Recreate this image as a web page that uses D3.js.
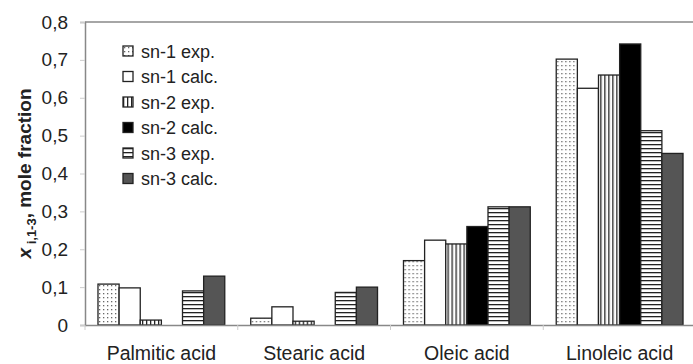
<!DOCTYPE html>
<html>
<head>
<meta charset="utf-8">
<script src="https://cdn.jsdelivr.net/npm/d3@7"></script>
<style>
  body { margin: 0; background: #fff; }
  text { font-family: "Liberation Sans", Arial, sans-serif; fill: #222; }
</style>
</head>
<body>
<script>
// categories and series
var acids = ["Palmitic acid", "Stearic acid", "Oleic acid", "Linoleic acid"];
var seriesNames = ["sn-1 exp.", "sn-1 calc.", "sn-2 exp.", "sn-2 calc.", "sn-3 exp.", "sn-3 calc."];
var sn1Exp  = [0.108, 0.018, 0.170, 0.702];
var sn1Calc = [0.098, 0.048, 0.224, 0.625];
var sn2Exp  = [0.013, 0.010, 0.214, 0.660];
var sn2Calc = [0.000, 0.000, 0.260, 0.742];
var sn3Exp  = [0.090, 0.086, 0.312, 0.513];
var sn3Calc = [0.129, 0.100, 0.312, 0.453];
var yTicks = [0, 0.1, 0.2, 0.3, 0.4, 0.5, 0.6, 0.7, 0.8];

var allSeries = [sn1Exp, sn1Calc, sn2Exp, sn2Calc, sn3Exp, sn3Calc];

var width = 693, height = 364;
var margin = {top: 22, right: -3, bottom: 39, left: 85};

var svg = d3.select("body").append("svg")
    .attr("width", width)
    .attr("height", height);

// patterns for fills
var defs = svg.append("defs");

var dots = defs.append("pattern").attr("id", "dots")
    .attr("patternUnits", "userSpaceOnUse").attr("width", 4).attr("height", 4);
dots.append("rect").attr("width", 4).attr("height", 4).attr("fill", "#fff");
dots.append("rect").attr("x", 1).attr("y", 1).attr("width", 1.3).attr("height", 1.3).attr("fill", "#666");

var vlines = defs.append("pattern").attr("id", "vlines")
    .attr("patternUnits", "userSpaceOnUse").attr("width", 4).attr("height", 4);
vlines.append("rect").attr("width", 4).attr("height", 4).attr("fill", "#fff");
vlines.append("rect").attr("x", 0).attr("width", 1.3).attr("height", 4).attr("fill", "#222");

var hlines = defs.append("pattern").attr("id", "hlines")
    .attr("patternUnits", "userSpaceOnUse").attr("width", 4).attr("height", 4);
hlines.append("rect").attr("width", 4).attr("height", 4).attr("fill", "#fff");
hlines.append("rect").attr("y", 0).attr("width", 4).attr("height", 1.3).attr("fill", "#222");

var fills = ["url(#dots)", "#fff", "url(#vlines)", "#000", "url(#hlines)", "#555"];

var plotW = width - margin.left - margin.right,
    plotH = height - margin.top - margin.bottom;

var x0 = d3.scaleBand().domain(acids).range([margin.left, margin.left + plotW]).paddingInner(0.17).paddingOuter(0.085);
var x1 = d3.scaleBand().domain(d3.range(seriesNames.length)).range([0, x0.bandwidth()]);
var y = d3.scaleLinear().domain([0, 0.8]).range([margin.top + plotH, margin.top]);

// frame: top gray line
svg.append("line")
    .attr("x1", margin.left).attr("x2", width)
    .attr("y1", y(0.8)).attr("y2", y(0.8))
    .attr("stroke", "#888").attr("stroke-width", 1.5);

// y axis
var yAxis = svg.append("g")
    .attr("transform", "translate(" + margin.left + ",0)")
    .call(d3.axisLeft(y).tickValues(yTicks).tickSize(5).tickPadding(12)
        .tickFormat(function(d){ return d === 0 ? "0" : d3.format(".1f")(d).replace(".", ","); }));
yAxis.select(".domain").attr("stroke", "#888").attr("stroke-width", 1.5);
yAxis.selectAll(".tick line").attr("stroke", "#ccc");
yAxis.selectAll("text").style("font-size", "19px").attr("fill", "#222");

// bars
var groups = svg.selectAll(".acid")
    .data(acids)
    .enter().append("g")
    .attr("class", "acid")
    .attr("transform", function(d){ return "translate(" + x0(d) + ",0)"; });

groups.selectAll("rect")
    .data(function(d, i){ return allSeries.map(function(s, k){ return {k: k, v: s[i]}; }); })
    .enter().append("rect")
    .filter(function(d){ return d.v > 0; })
    .attr("x", function(d){ return x1(d.k); })
    .attr("width", x1.bandwidth())
    .attr("y", function(d){ return y(d.v); })
    .attr("height", function(d){ return y(0) - y(d.v); })
    .attr("fill", function(d){ return fills[d.k]; })
    .attr("stroke", "#222")
    .attr("stroke-width", 1.3);

// x axis
var xAxis = svg.append("g")
    .attr("transform", "translate(0," + y(0) + ")")
    .call(d3.axisBottom(x0).tickSize(0).tickPadding(21));
xAxis.select(".domain").attr("stroke", "#888").attr("stroke-width", 1.5);
xAxis.selectAll("text").style("font-size", "19.5px").attr("fill", "#222");

// small ticks between categories
var step = x0.step();
svg.selectAll(".xtick")
    .data(d3.range(acids.length + 1))
    .enter().append("line")
    .attr("x1", function(i){ return margin.left + i * step; })
    .attr("x2", function(i){ return margin.left + i * step; })
    .attr("y1", y(0)).attr("y2", y(0) + 5)
    .attr("stroke", "#ccc");

// y title
var yTitle = svg.append("text")
    .attr("transform", "translate(31," + (margin.top + plotH / 2) + ") rotate(-90)")
    .attr("text-anchor", "middle")
    .style("font-size", "19px")
    .style("font-weight", "bold");
yTitle.append("tspan").style("font-style", "italic").text("x");
yTitle.append("tspan").attr("dy", 5).style("font-size", "13px").text(" i,1-3");
yTitle.append("tspan").attr("dy", -5).text(", mole fraction");

// legend
var legend = svg.selectAll(".legend")
    .data(seriesNames)
    .enter().append("g")
    .attr("class", "legend")
    .attr("transform", function(d, i){ return "translate(123," + (46 + i * 25.5) + ")"; });

legend.append("rect")
    .attr("width", 10).attr("height", 10)
    .attr("fill", function(d, i){ return fills[i]; })
    .attr("stroke", "#222").attr("stroke-width", 1.3);

legend.append("text")
    .attr("x", 18).attr("y", 11.5)
    .style("font-size", "18px")
    .text(function(d){ return d; });
</script>
</body>
</html>
